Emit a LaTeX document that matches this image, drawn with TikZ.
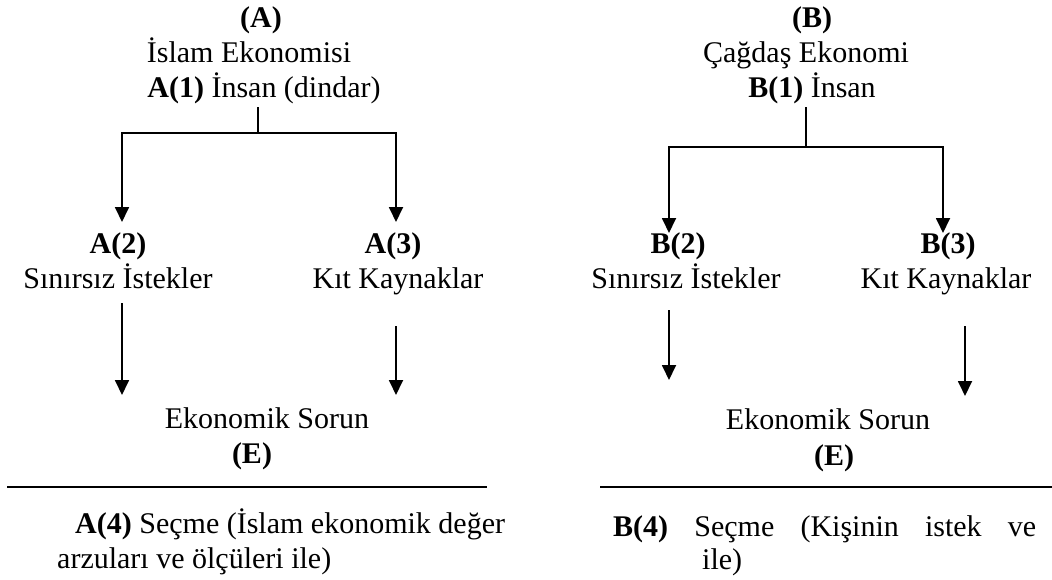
\documentclass[tikz,border=0pt]{standalone}
\usepackage{fontspec}
\setmainfont{Liberation Serif}
\usetikzlibrary{arrows.meta}
\begin{document}
\begin{tikzpicture}[x=1pt,y=-1pt,
  txt/.style={font=\fontsize{30}{35}\selectfont, inner sep=0pt, anchor=base},
  conn/.style={line width=1.8pt},
  arr/.style={conn,-{Triangle[length=15pt,width=14pt]}},
  rulel/.style={line width=1.6pt}]
\useasboundingbox (0,0) rectangle (1052,579);
\fill[white] (0,0) rectangle (1052,579);

% ---------- left: Islam economy ----------
\node[txt] (ahead) at (261,27) {\textbf{(A)}};
\node[txt] (atitle) at (249,62) {İslam Ekonomisi};
\node[txt] (a1) at (264,97) {\textbf{A(1)} İnsan (dindar)};
\node[txt] (a2) at (118,253) {\textbf{A(2)}};
\node[txt] (a2t) at (118,288) {Sınırsız İstekler};
\node[txt] (a3) at (393,253) {\textbf{A(3)}};
\node[txt] (a3t) at (398,288) {Kıt Kaynaklar};
\node[txt] (ae) at (267,428) {Ekonomik Sorun};
\node[txt] (aE) at (252,463) {\textbf{(E)}};
\node[txt, anchor=base west] (a4) at (75,533) {\textbf{A(4)} Seçme (İslam ekonomik değer};
\node[txt, anchor=base west] (a4b) at (57,568) {arzuları ve ölçüleri ile)};

\coordinate (astem) at (258,107);
\coordinate (ajoin) at (258,133);
\coordinate (a2tip) at (122,222);
\coordinate (a3tip) at (396,222);
\coordinate (a2s) at (122,303);
\coordinate (a2e) at (122,395);
\coordinate (a3s) at (396,326);
\coordinate (a3e) at (396,395);
\coordinate (arl) at (7,487);
\coordinate (arr) at (487,487);

\draw[conn] (astem) -- (ajoin);
\draw[arr] (ajoin) -| (a2tip);
\draw[arr] (ajoin) -| (a3tip);
\draw[arr] (a2s) -- (a2e);
\draw[arr] (a3s) -- (a3e);
\draw[rulel] (arl) -- (arr);

% ---------- right: contemporary economy ----------
\node[txt] (bhead) at (812,27) {\textbf{(B)}};
\node[txt] (btitle) at (806,62) {Çağdaş Ekonomi};
\node[txt] (b1) at (812,97) {\textbf{B(1)} İnsan};
\node[txt] (b2) at (678,253) {\textbf{B(2)}};
\node[txt] (b2t) at (686,288) {Sınırsız İstekler};
\node[txt] (b3) at (948,253) {\textbf{B(3)}};
\node[txt] (b3t) at (946,288) {Kıt Kaynaklar};
\node[txt] (be) at (828,429) {Ekonomik Sorun};
\node[txt] (bE) at (834,465) {\textbf{(E)}};
\node[txt, anchor=base west] (b4) at (613,536) {\makebox[423pt][s]{\textbf{B(4)} Seçme (Kişinin istek ve}};
\node[txt, anchor=base west] (b4b) at (702,569) {ile)};

\coordinate (bstem) at (806,107);
\coordinate (bjoin) at (806,147);
\coordinate (b2tip) at (669,233);
\coordinate (b3tip) at (943,233);
\coordinate (b2s) at (669,310);
\coordinate (b2e) at (669,380);
\coordinate (b3s) at (965,326);
\coordinate (b3e) at (965,396);
\coordinate (brl) at (600,487);
\coordinate (brr) at (1052,487);

\draw[conn] (bstem) -- (bjoin);
\draw[arr] (bjoin) -| (b2tip);
\draw[arr] (bjoin) -| (b3tip);
\draw[arr] (b2s) -- (b2e);
\draw[arr] (b3s) -- (b3e);
\draw[rulel] (brl) -- (brr);
\end{tikzpicture}
\end{document}
